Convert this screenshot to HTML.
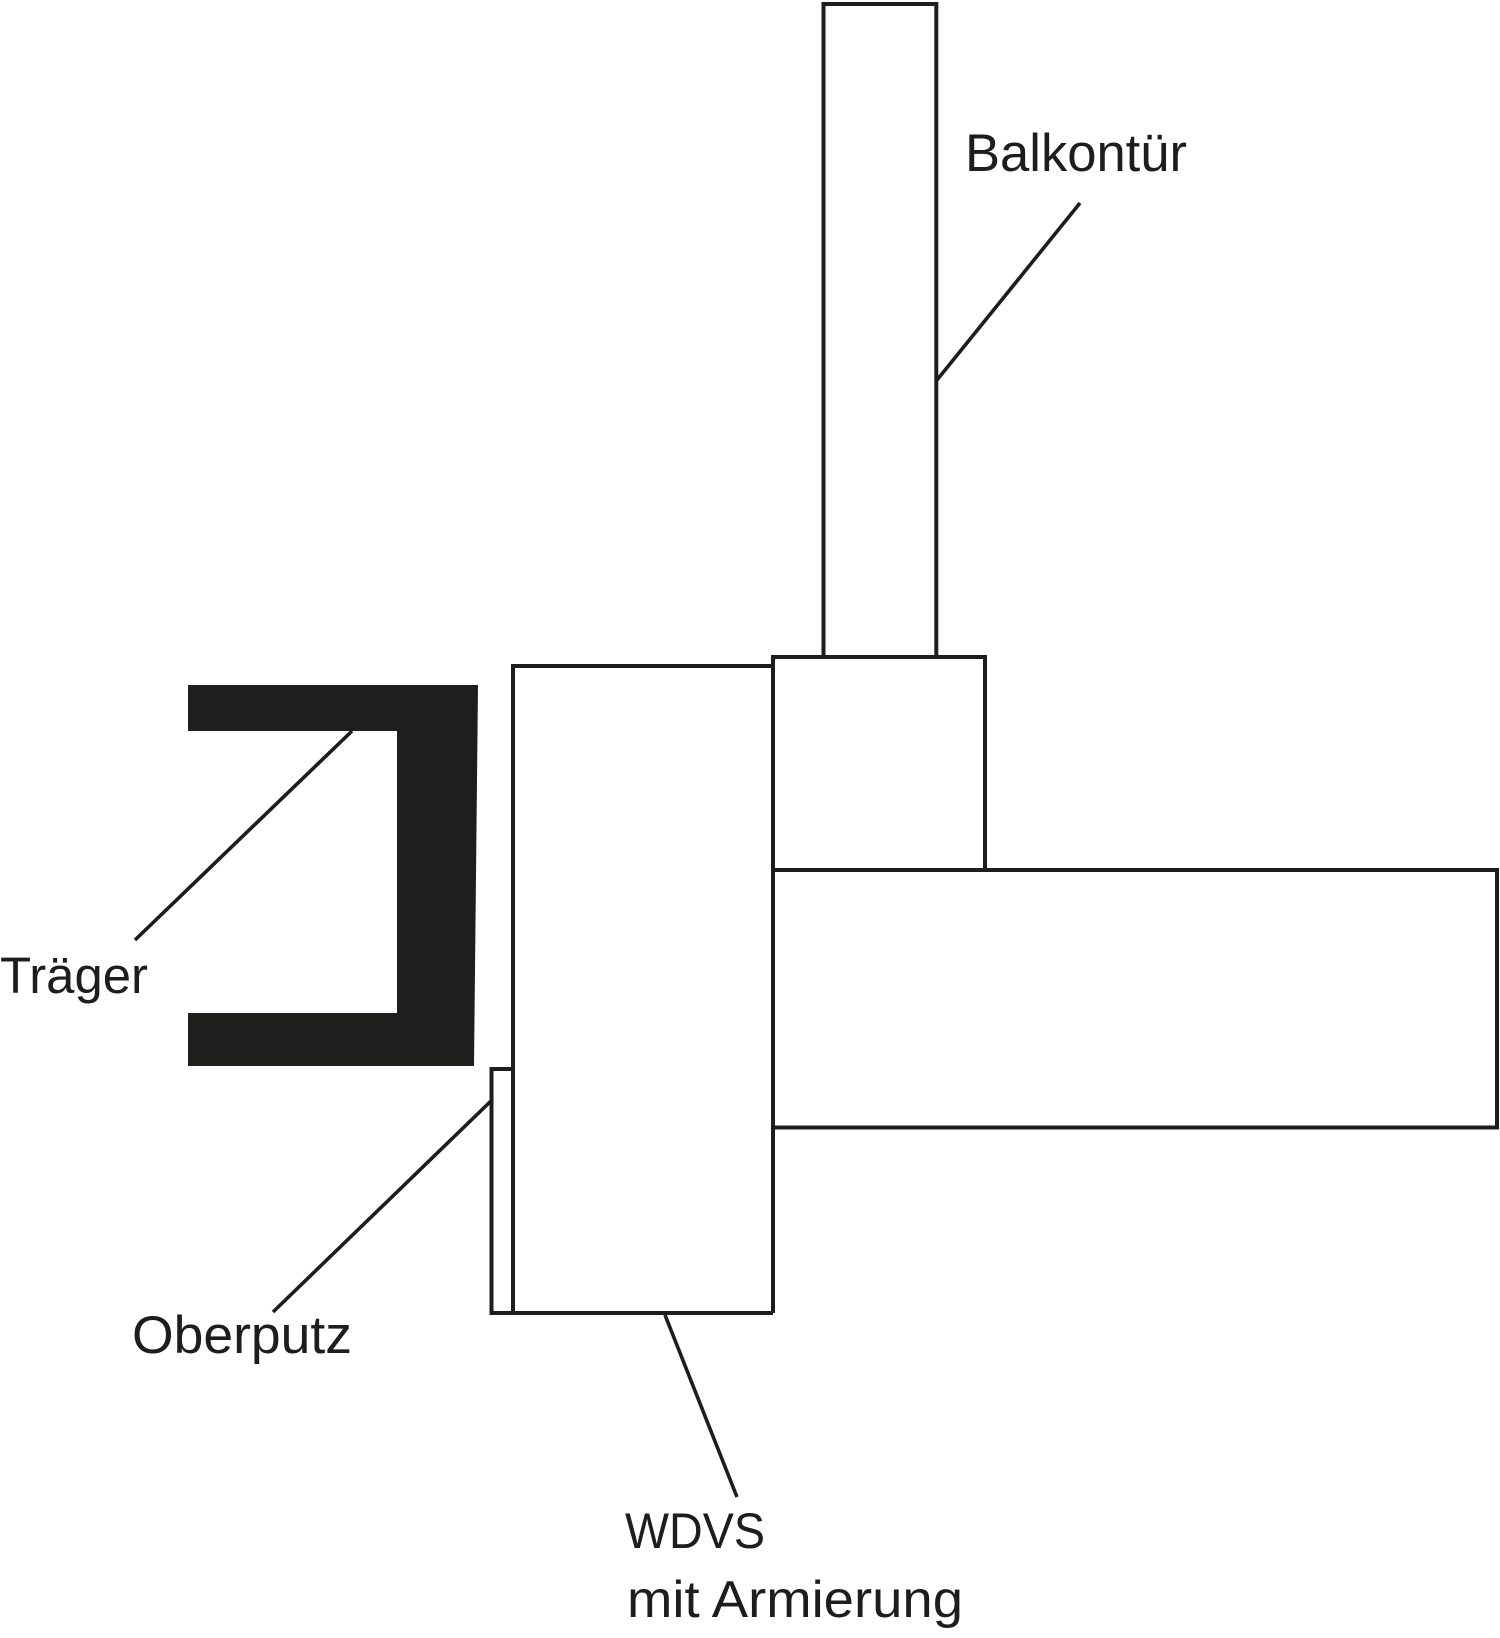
<!DOCTYPE html>
<html>
<head>
<meta charset="utf-8">
<style>
  html, body { margin: 0; padding: 0; background: #ffffff; }
  svg { display: block; }
  text { font-family: "Liberation Sans", "DejaVu Sans", sans-serif; fill: #1d1d1b; }
</style>
</head>
<body>
<svg width="1500" height="1638" viewBox="0 0 1500 1638" xmlns="http://www.w3.org/2000/svg">
  <rect x="0" y="0" width="1500" height="1638" fill="#ffffff"/>
  <g fill="none" stroke="#1d1d1b" stroke-width="4">
    <!-- Tall door rect -->
    <rect x="823.5" y="4" width="112.8" height="653"/>
    <!-- Middle block -->
    <rect x="773" y="657" width="212" height="213"/>
    <!-- Wide slab -->
    <rect x="773" y="870" width="724" height="257.5"/>
    <!-- WDVS -->
    <polyline points="773,666 513,666 513,1313 773,1313"/>
    <line x1="773" y1="657" x2="773" y2="1313"/>
    <!-- Oberputz strip -->
    <polyline points="513,1069 491.5,1069 491.5,1313 513,1313"/>
  </g>
  <!-- Träger -->
  <polygon points="188,685 478,685 474,1066 188,1066 188,1013 397,1013 397,731 188,731" fill="#1e1e1c"/>
  <!-- Leader lines -->
  <g stroke="#1d1d1b" stroke-width="3.6" fill="none">
    <line x1="1080" y1="203" x2="937" y2="380"/>
    <line x1="352" y1="731" x2="135" y2="940"/>
    <line x1="492" y1="1100" x2="273" y2="1312"/>
    <line x1="665" y1="1315" x2="737" y2="1497"/>
  </g>
  <!-- Labels -->
  <text x="965" y="171" font-size="53" textLength="222" lengthAdjust="spacingAndGlyphs">Balkontür</text>
  <text x="0" y="993" font-size="51" textLength="148" lengthAdjust="spacingAndGlyphs">Träger</text>
  <text x="132" y="1353" font-size="53" textLength="220" lengthAdjust="spacingAndGlyphs">Oberputz</text>
  <text x="625" y="1548" font-size="50" textLength="140" lengthAdjust="spacingAndGlyphs">WDVS</text>
  <text x="627" y="1617" font-size="52" textLength="336" lengthAdjust="spacingAndGlyphs">mit Armierung</text>
</svg>
</body>
</html>
